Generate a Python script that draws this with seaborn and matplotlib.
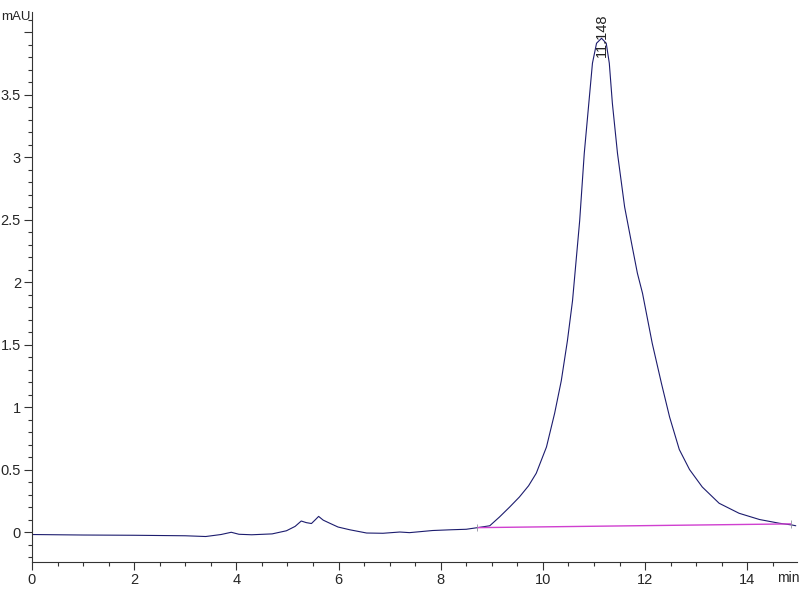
import numpy as np
import pandas as pd
import matplotlib
matplotlib.use("Agg")
import matplotlib.pyplot as plt
import seaborn as sns
from matplotlib.ticker import MultipleLocator

# chromatogram trace (min, mAU)
time = [0, 0.5, 1.0, 1.5, 2.0, 2.5, 3.0, 3.4, 3.7, 3.9, 4.05, 4.3, 4.7, 4.98,
        5.15, 5.27, 5.37, 5.47, 5.55, 5.61, 5.7, 5.83, 5.99, 6.22, 6.55, 6.87,
        7.2, 7.39, 7.84, 8.2, 8.5, 8.72, 8.96, 9.15, 9.35, 9.54, 9.72, 9.87,
        10.07, 10.23, 10.36, 10.48, 10.58, 10.72, 10.81, 10.91, 10.97, 11.05,
        11.148, 11.24, 11.30, 11.36, 11.46, 11.60, 11.75, 11.85, 11.95, 12.14,
        12.32, 12.48, 12.67, 12.87, 13.12, 13.45, 13.84, 14.24, 14.63, 14.88, 14.95]
signal = [-0.02, -0.022, -0.024, -0.025, -0.026, -0.028, -0.03, -0.036, -0.02,
          -0.002, -0.018, -0.022, -0.015, 0.01, 0.045, 0.088, 0.075, 0.068, 0.1,
          0.125, 0.095, 0.07, 0.04, 0.018, -0.008, -0.01, 0.0, -0.005, 0.012,
          0.018, 0.022, 0.035, 0.05, 0.12, 0.2, 0.28, 0.37, 0.47, 0.68, 0.95,
          1.21, 1.53, 1.85, 2.49, 3.03, 3.48, 3.75, 3.91, 3.95, 3.91, 3.75, 3.43,
          3.03, 2.60, 2.28, 2.07, 1.91, 1.51, 1.19, 0.92, 0.66, 0.50, 0.36, 0.23,
          0.15, 0.10, 0.07, 0.056, 0.05]

# integration baseline of the main peak
base_time = [8.72, 14.85]
base_signal = [0.035, 0.065]

peak_time = 11.148
peak_label = "11.148"

df = pd.DataFrame({"time": time, "signal": signal})

sns.set_style("ticks")
plt.rcParams['font.family'] = ['Liberation Sans', 'DejaVu Sans']

fig = plt.figure(figsize=(8, 6), dpi=100)
ax = fig.add_axes([0.04, 0.0633, 0.956, 0.9167])

sns.lineplot(data=df, x="time", y="signal", ax=ax, color="#1c1c6e", linewidth=0.8)
ax.plot(base_time, base_signal, color="#d040d0", linewidth=1.0)
ax.vlines(base_time, [b - 0.03 for b in base_signal], [b + 0.03 for b in base_signal],
          color="#9090a0", linewidth=0.6)

ax.text(peak_time, 3.8, peak_label, rotation=90, ha="center", va="bottom",
        fontsize=10.5, color="#222222")

ax.set_xlim(0, 14.97)
ax.set_ylim(-0.24, 4.16)
ax.xaxis.set_minor_locator(MultipleLocator(0.5))
ax.yaxis.set_minor_locator(MultipleLocator(0.1))

ax.set_yticks(np.arange(0, 4.01, 0.5))
ax.set_yticklabels(["0", "0.5", "1", "1.5", "2", "2.5", "3", "3.5", ""])
ax.set_xticks([0, 2, 4, 6, 8, 10, 12, 14])
ax.set_xticklabels(["0", "2", "4", "6", "8", "10", "12", "14"])

ax.tick_params(axis="both", which="major", length=6, width=0.8, labelsize=10.5, color="#333333", pad=2)
ax.tick_params(axis="both", which="minor", length=3, width=0.8, color="#333333")
ax.set_xlabel("")
ax.set_ylabel("")

sns.despine(ax=ax)
for s in ["left", "bottom"]:
    ax.spines[s].set_color("#333333")
    ax.spines[s].set_linewidth(0.8)

fig.text(0.001, 0.971, "mAU", ha="left", va="center", fontsize=9.5)
ax.text(14.8, -0.37, "min", ha="center", va="center", fontsize=10)

fig.savefig("out.png", dpi=100)
